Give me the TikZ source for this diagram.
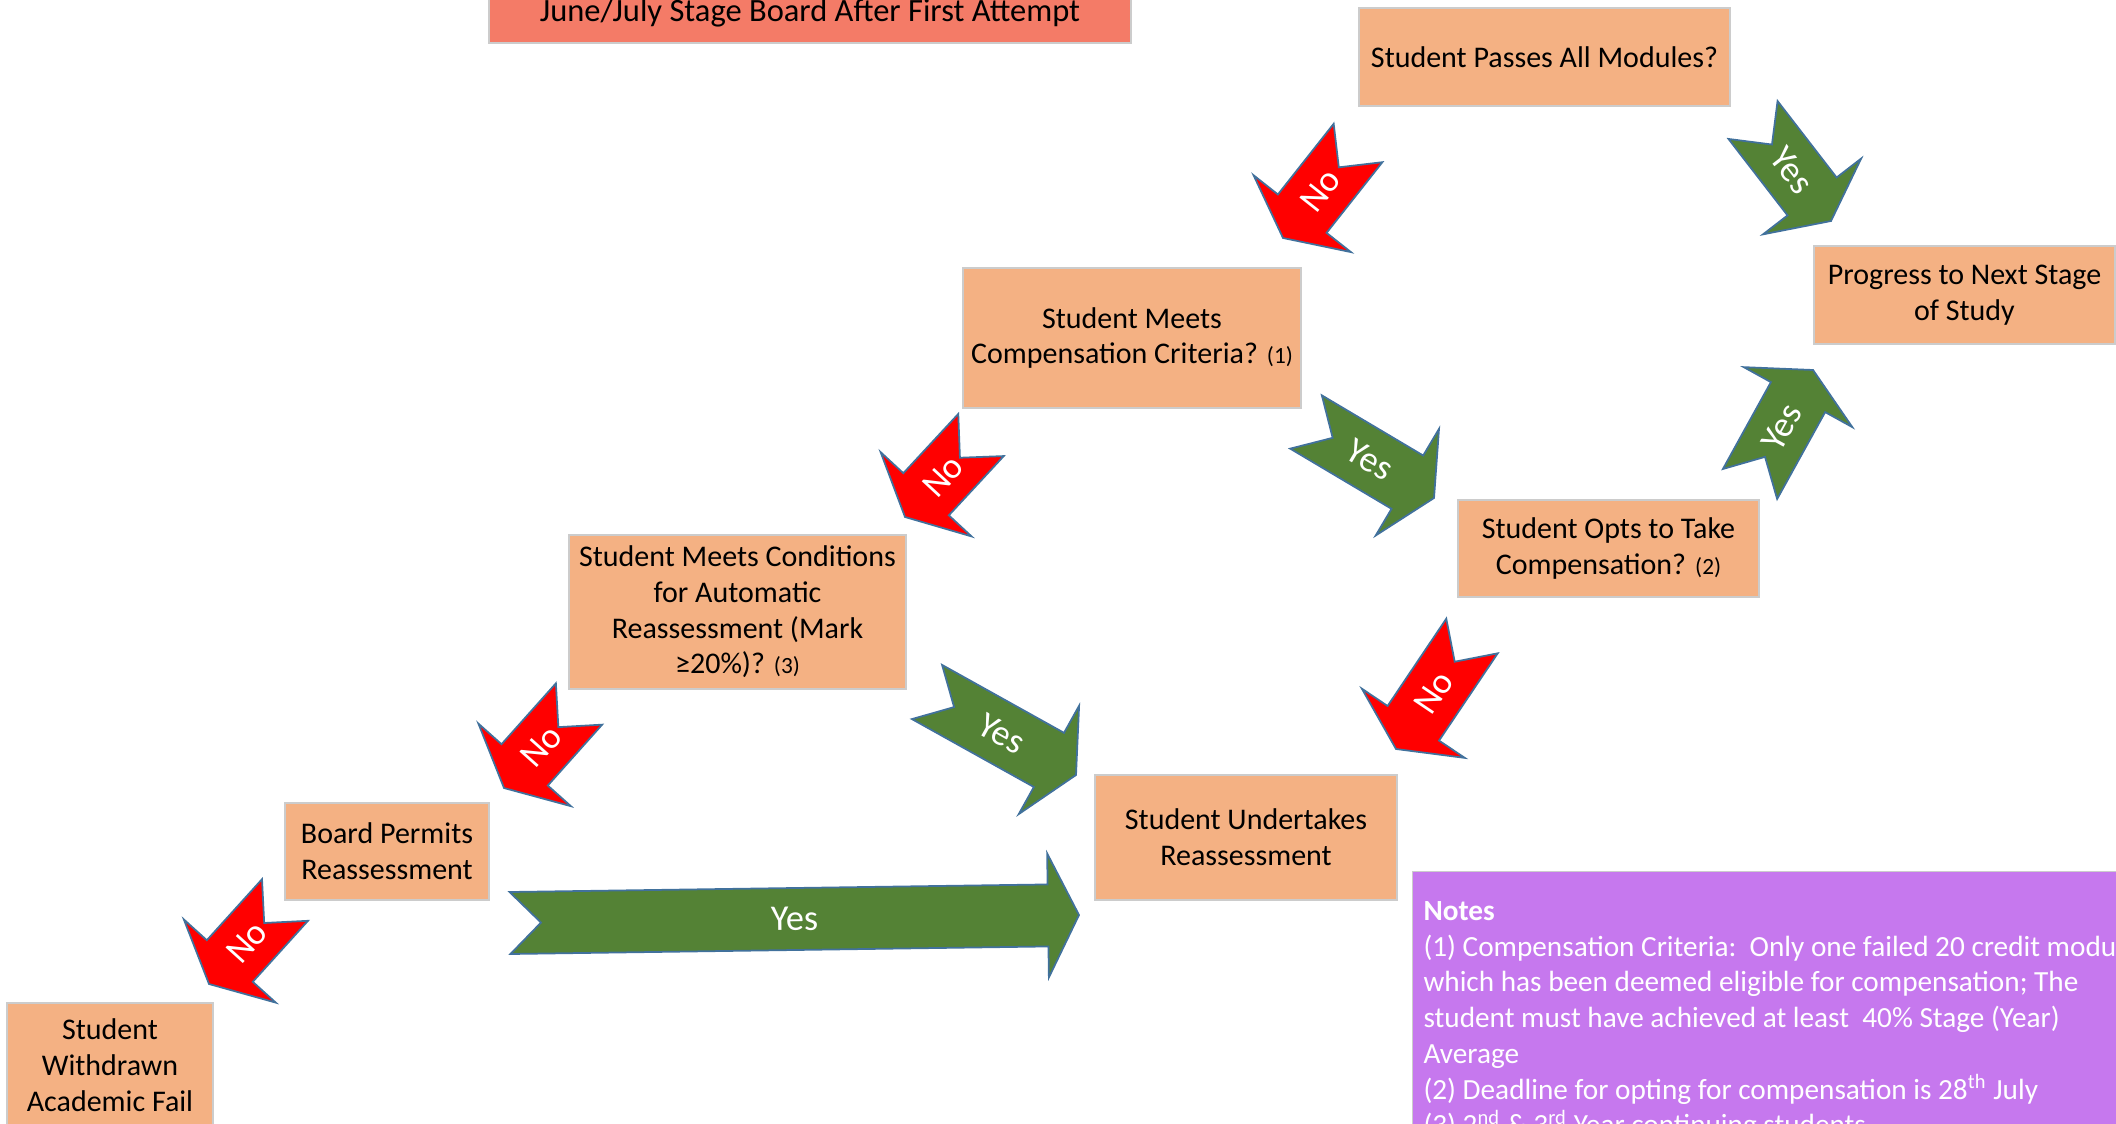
\documentclass[tikz,border=0pt]{standalone}
\usepackage{fontspec}
\setmainfont{Carlito}
\usepackage{tikz}
\usetikzlibrary{calc,positioning}

\definecolor{stagefill}{HTML}{F4B183}
\definecolor{titlefill}{HTML}{F47B67}
\definecolor{nofill}{HTML}{FF0000}
\definecolor{yesfill}{HTML}{548235}
\definecolor{arrowedge}{HTML}{41719C}
\definecolor{notesfill}{HTML}{C678EE}

\newcommand{\shaftw}{12.4pt}
\newcommand{\headw}{24.8pt}
\newcommand{\headl}{12.4pt}
\newcommand{\notchd}{12.4pt}
\newcommand{\refno}[1]{{\fontsize{9.3}{11}\selectfont(#1)}}

% notched block arrow: tail centre #1, tip #2, fill #3, label #4
\newcommand{\notcharrow}[4]{%
  \draw[blockarrow, fill=#3]
    ($(#1)!\shaftw!90:(#2)$)
    -- ($(#2)!\headl!(#1)!\shaftw!-90:(#1)$)
    -- ($(#2)!\headl!(#1)!\headw!-90:(#1)$)
    -- (#2)
    -- ($(#2)!\headl!(#1)!\headw!90:(#1)$)
    -- ($(#2)!\headl!(#1)!\shaftw!90:(#1)$)
    -- ($(#1)!\shaftw!-90:(#2)$)
    -- ($(#1)!\notchd!(#2)$)
    -- cycle;
  \path (#1) -- (#2) node[arrowtext, pos=0.5, sloped] {#4};
}

\tikzset{
  stage/.style={draw=black!20, line width=0.5pt, fill=stagefill, align=center, inner sep=1pt, font=\fontsize{12}{14.3}\selectfont},
  board/.style={stage, fill=titlefill, font=\fontsize{13}{14.3}\selectfont},
  blockarrow/.style={draw=arrowedge, line width=0.7pt, line join=miter},
  arrowtext/.style={text=white, inner sep=0pt, font=\fontsize{14.5}{16}\selectfont},
  notespanel/.style={draw=black!20, line width=0.5pt, fill=notesfill},
  notestext/.style={text=white, align=left, inner sep=0pt, font=\fontsize{11.7}{14.3}\selectfont}
}

\begin{document}
\begin{tikzpicture}[x=0.4pt, y=-0.4pt]
    \useasboundingbox (0,0) rectangle (2116,1124);

    % boxes
    \node[board, minimum width=256.8pt, minimum height=24pt] (title) at (810,13) {June/July Stage Board After First Attempt};
    \node[stage, minimum width=148.4pt, minimum height=39.2pt] (passes) at (1544.5,57) {Student Passes All Modules?};
    \node[stage, minimum width=120.4pt, minimum height=39.2pt] (progress) at (1964.5,295) {Progress to Next Stage\\of Study};
    \node[stage, minimum width=135.2pt, minimum height=56pt] (comp) at (1132,338) {Student Meets\\Compensation Criteria? \refno{1}};
    \node[stage, minimum width=120.4pt, minimum height=38.8pt] (opts) at (1608.5,548.5) {Student Opts to Take\\Compensation? \refno{2}};
    \node[stage, minimum width=134.8pt, minimum height=61.6pt] (cond) at (737.5,612) {Student Meets Conditions\\for Automatic\\Reassessment (Mark\\≥20\%)? \refno{3}};
    \node[stage, minimum width=120.8pt, minimum height=50pt] (reassess) at (1246,837.5) {Student Undertakes\\Reassessment};
    \node[stage, minimum width=81.6pt, minimum height=38.8pt] (permits) at (387,851.5) {Board Permits\\Reassessment};
    \node[stage, minimum width=82.4pt, minimum height=49.6pt] (withdrawn) at (110,1065) {Student\\Withdrawn\\Academic Fail};

    % notes
    \node[notespanel, anchor=north west, minimum width=287.2pt, minimum height=107.6pt] (notes) at (1412,871) {};
    \node[notestext, anchor=north west] (notestxt) at (1423,901) {\textbf{Notes}\\
      (1) Compensation Criteria:\ \ Only one failed 20 credit module\\
      which has been deemed eligible for compensation; The\\
      student must have achieved at least\ \ 40\% Stage (Year)\\
      Average\\
      (2) Deadline for opting for compensation is 28\textsuperscript{th} July\\
      (3) 2\textsuperscript{nd} \& 3\textsuperscript{rd} Year continuing students};

    % arrow ends
    \coordinate (nT1) at (1358,143);  \coordinate (nH1) at (1283,238);
    \coordinate (yT1) at (1753,120);  \coordinate (yH1) at (1831,221);
    \coordinate (yT2) at (1306,422);  \coordinate (yH2) at (1434,498);
    \coordinate (yT3) at (1750,484);  \coordinate (yH3) at (1813,370);
    \coordinate (nT2) at (981,435);   \coordinate (nH2) at (905,517);
    \coordinate (yT4) at (927,692);   \coordinate (yH4) at (1076,775);
    \coordinate (nT3) at (1472,636);  \coordinate (nH3) at (1396,749);
    \coordinate (nT4) at (579,704);   \coordinate (nH4) at (504,788);
    \coordinate (nT5) at (285,900);   \coordinate (nH5) at (209,984);
    \coordinate (yT5) at (510,923);   \coordinate (yH5) at (1079,915);

    % No arrows
    \notcharrow{nT1}{nH1}{nofill}{No}
    \notcharrow{nT2}{nH2}{nofill}{No}
    \notcharrow{nT3}{nH3}{nofill}{No}
    \notcharrow{nT4}{nH4}{nofill}{No}
    \notcharrow{nT5}{nH5}{nofill}{No}

    % Yes arrows
    \notcharrow{yT1}{yH1}{yesfill}{Yes}
    \notcharrow{yT2}{yH2}{yesfill}{Yes}
    \notcharrow{yT3}{yH3}{yesfill}{Yes}
    \notcharrow{yT4}{yH4}{yesfill}{Yes}
    \notcharrow{yT5}{yH5}{yesfill}{Yes}
\end{tikzpicture}
\end{document}
